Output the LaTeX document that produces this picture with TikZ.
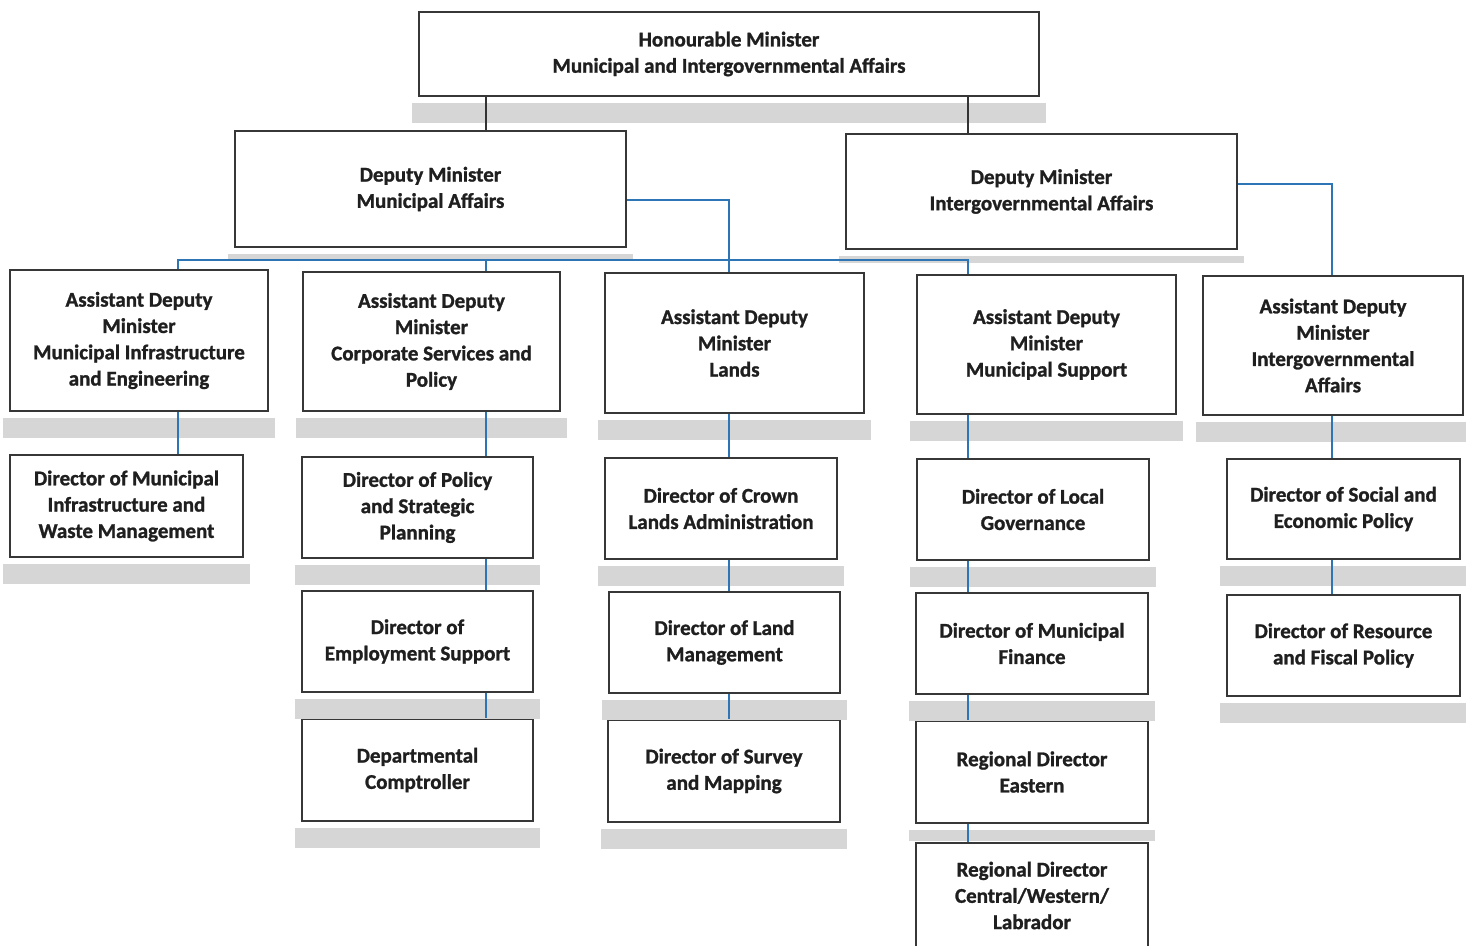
\documentclass[tikz,border=0pt]{standalone}
\usepackage{fontspec}
\setmainfont{Carlito}[BoldFeatures={FakeBold=1.2}]
\usetikzlibrary{calc}
\definecolor{linkblue}{RGB}{46,117,182}
\definecolor{boxline}{RGB}{55,55,55}
\definecolor{shadowc}{RGB}{214,214,214}
\tikzset{
  box/.style={draw=boxline, line width=2pt, fill=white, align=center, inner sep=2pt,
    font=\fontsize{21}{26.3}\selectfont\bfseries, text=black!88},
  blk/.style={draw=black!80, line width=1.6pt},
  bl/.style={draw=linkblue, line width=1.8pt},
  shd/.style={fill=shadowc}
}
\newcommand\bx[6]{\node[box, minimum width={#4-#2}, minimum height={#5-#3}] (#1) at ({(#2+#4)/2},{(#3+#5)/2}) {#6};}
\newcommand\sh[2][20]{\fill[shd] ($(#2.south west)+(-6,6)$) rectangle ($(#2.south east)+(6,6+#1)$);}
\begin{document}
\begin{tikzpicture}[x=1pt,y=-1pt]
\useasboundingbox (0,0) rectangle (1466,945);
% boxes
\bx{min}{419}{12}{1039}{96}{Honourable Minister\\Municipal and Intergovernmental Affairs}
\bx{dma}{235}{131}{626}{247}{Deputy Minister\\Municipal Affairs}
\bx{dmb}{846}{134}{1237}{249}{Deputy Minister\\Intergovernmental Affairs}
\bx{adma}{10}{270}{268}{411}{Assistant Deputy\\Minister\\Municipal Infrastructure\\and Engineering}
\bx{admb}{303}{272}{560}{411}{Assistant Deputy\\Minister\\Corporate Services and\\Policy}
\bx{admc}{605}{273}{864}{413}{Assistant Deputy\\Minister\\Lands}
\bx{admd}{917}{275}{1176}{414}{Assistant Deputy\\Minister\\Municipal Support}
\bx{adme}{1203}{276}{1463}{415}{Assistant Deputy\\Minister\\Intergovernmental\\Affairs}
\bx{da1}{10}{455}{243}{557}{Director of Municipal\\Infrastructure and\\Waste Management}
\bx{db1}{302}{457}{533}{558}{Director of Policy\\and Strategic\\Planning}
\bx{db2}{302}{591}{533}{692}{Director of\\Employment Support}
\bx{db3}{302}{719}{533}{821}{Departmental\\Comptroller}
\bx{dc1}{605}{458}{837}{559}{Director of Crown\\Lands Administration}
\bx{dc2}{609}{592}{840}{693}{Director of Land\\Management}
\bx{dc3}{608}{720}{840}{822}{Director of Survey\\and Mapping}
\bx{dd1}{917}{459}{1149}{560}{Director of Local\\Governance}
\bx{dd2}{916}{593}{1148}{694}{Director of Municipal\\Finance}
\bx{dd3}{916}{721}{1148}{823}{Regional Director\\Eastern}
\bx{dd4}{916}{843}{1148}{948}{Regional Director\\Central/Western/\\Labrador}
\bx{de1}{1227}{459}{1460}{559}{Director of Social and\\Economic Policy}
\bx{de2}{1227}{595}{1460}{696}{Director of Resource\\and Fiscal Policy}
% shadows
\sh{min}\sh[7]{dma}\sh[7]{dmb}
\sh{adma}\sh{admb}\sh{admc}\sh{admd}\sh{adme}
\sh{da1}\sh{db1}\sh{db2}\sh{db3}
\sh{dc1}\sh{dc2}\sh{dc3}
\sh{dd1}\sh{dd2}\sh[11]{dd3}
\sh{de1}\sh{de2}
% column coordinates
\coordinate (c1) at (178,0);
\coordinate (c2) at (486,0);
\coordinate (c3) at (729,0);
\coordinate (c4) at (968,0);
\coordinate (c5) at (1332,0);
\coordinate (bus) at (0,260);
\coordinate (ya) at (0,200);
\coordinate (yb) at (0,184);
% connectors
\draw[blk] (min.south -| c2) -- (dma.north -| c2);
\draw[blk] (min.south -| c4) -- (dmb.north -| c4);
\draw[bl] (dma.east |- ya) -| (admc.north -| c3);
\draw[bl] (adma.north -| c1) -- (c1 |- bus) -- (c4 |- bus) -- (admd.north -| c4);
\draw[bl] (c2 |- bus) -- (admb.north -| c2);
\draw[bl] (dmb.east |- yb) -| (adme.north -| c5);
\draw[bl] (adma.south -| c1) -- (da1.north -| c1);
\draw[bl] (admb.south -| c2) -- (db1.north -| c2);
\draw[bl] (db1.south -| c2) -- (db2.north -| c2);
\draw[bl] (db2.south -| c2) -- (db3.north -| c2);
\draw[bl] (admc.south -| c3) -- (dc1.north -| c3);
\draw[bl] (dc1.south -| c3) -- (dc2.north -| c3);
\draw[bl] (dc2.south -| c3) -- (dc3.north -| c3);
\draw[bl] (admd.south -| c4) -- (dd1.north -| c4);
\draw[bl] (dd1.south -| c4) -- (dd2.north -| c4);
\draw[bl] (dd2.south -| c4) -- (dd3.north -| c4);
\draw[bl] (dd3.south -| c4) -- (dd4.north -| c4);
\draw[bl] (adme.south -| c5) -- (de1.north -| c5);
\draw[bl] (de1.south -| c5) -- (de2.north -| c5);
\end{tikzpicture}
\end{document}
